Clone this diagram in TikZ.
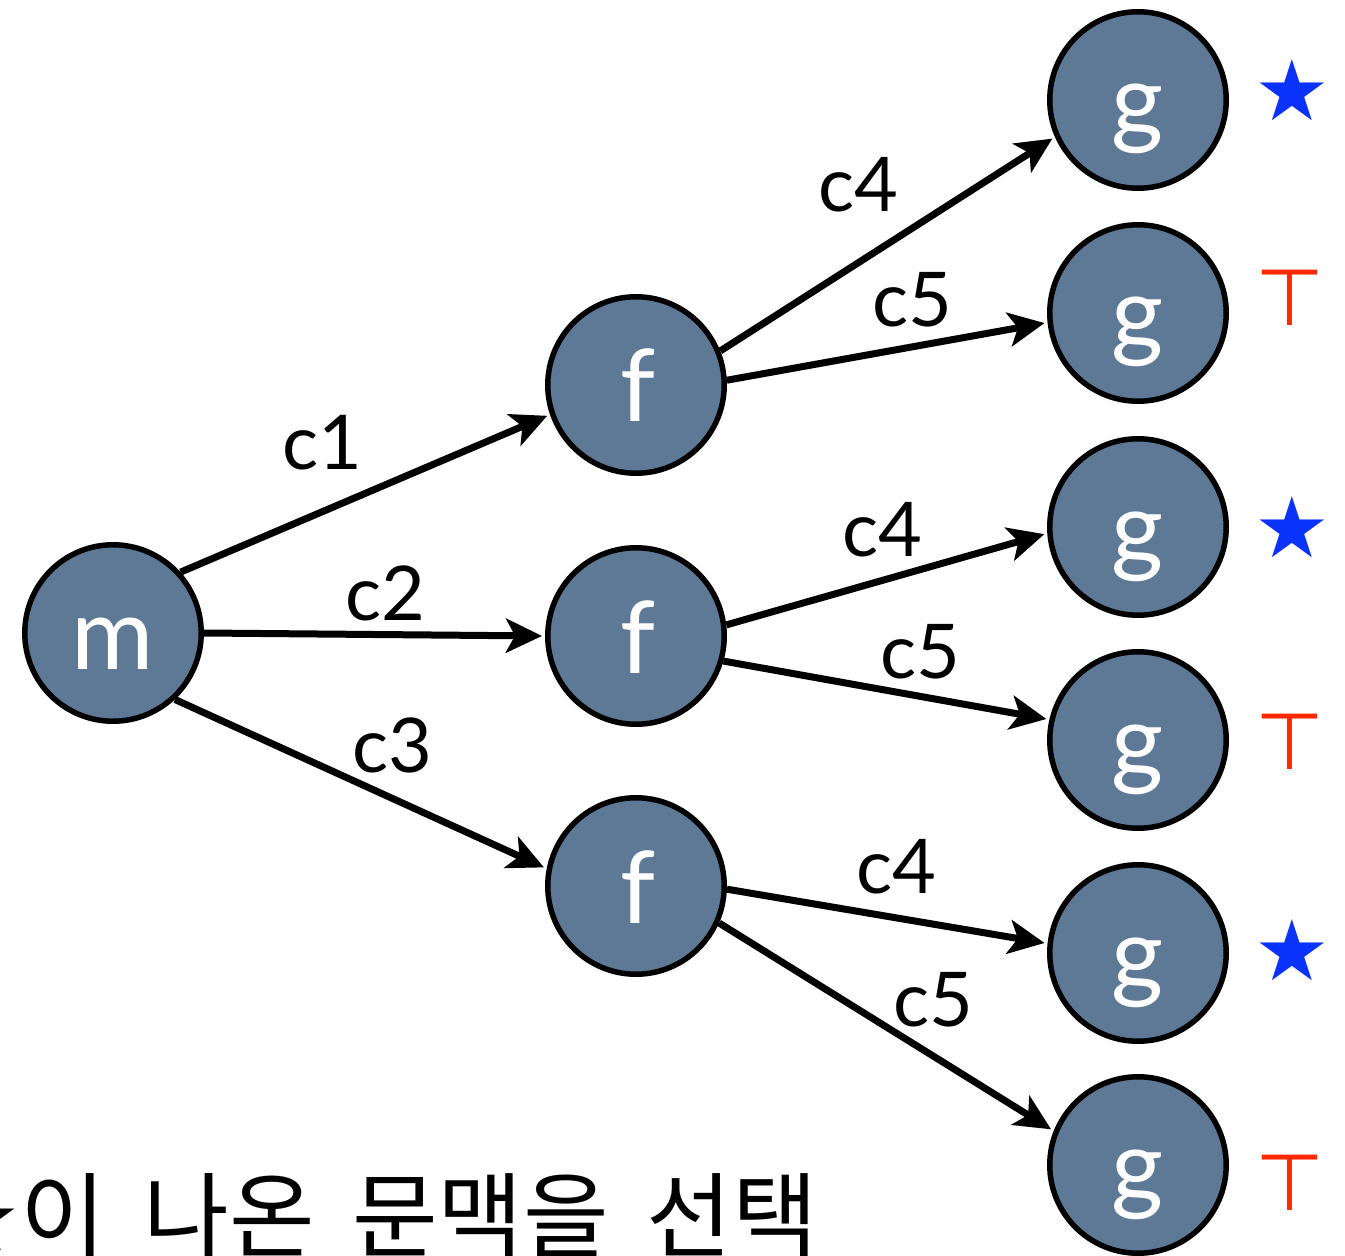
\documentclass[tikz,border=0pt]{standalone}
\usepackage{fontspec}
\setmainfont{Lato}
\newfontfamily\krfont{Noto Sans CJK KR}
\newfontfamily\symfont{DejaVu Sans}
\usetikzlibrary{arrows.meta}
\definecolor{nodeblue}{RGB}{94,121,150}
\definecolor{starblue}{RGB}{10,50,250}
\definecolor{tred}{RGB}{255,40,0}
\tikzset{
 ball/.style={circle, draw=black, line width=0.11cm, fill=nodeblue, minimum size=3.53cm, inner sep=0pt},
 ballletter/.style={text=white, font=\fontsize{57}{57}\selectfont, anchor=base, inner sep=0pt},
 conn/.style={line width=0.14cm, -{Stealth[length=0.72cm,width=0.68cm,inset=0.18cm]}, shorten >=0.06cm},
 elabel/.style={font=\fontsize{43}{43}\selectfont, inner sep=0pt},
 starmark/.style={font=\symfont\fontsize{48}{48}\selectfont, text=starblue, inner sep=0pt},
 topmark/.style={font=\symfont\fontsize{45}{45}\selectfont, text=tred, inner sep=0pt},
 caption/.style={font=\krfont\fontsize{53}{53}\selectfont, inner sep=0pt, anchor=base west},
}
\newcommand{\capgap}{\hspace{0.4em}}
\begin{document}
\begin{tikzpicture}[x=0.02cm,y=-0.02cm]
\useasboundingbox (0,0) rectangle (1345,1256);
\clip (0,0) rectangle (1345,1256);
% nodes
\node (m) [ball] at (113,633) {};
\node (f1) [ball] at (636,385) {};
\node (f2) [ball] at (636,636) {};
\node (f3) [ball] at (636,886) {};
\node (g1) [ball] at (1138,100) {};
\node (g2) [ball] at (1138,313) {};
\node (g3) [ball] at (1138,527) {};
\node (g4) [ball] at (1138,740) {};
\node (g5) [ball] at (1138,953) {};
\node (g6) [ball] at (1138,1165) {};
% letters
\node (mt) [ballletter] at (113,669) {m};
\node (f1t) [ballletter] at (638,422) {f};
\node (f2t) [ballletter] at (638,673) {f};
\node (f3t) [ballletter] at (638,923) {f};
\node (g1t) [ballletter] at (1138,136) {g};
\node (g2t) [ballletter] at (1138,349) {g};
\node (g3t) [ballletter] at (1138,563) {g};
\node (g4t) [ballletter] at (1138,776) {g};
\node (g5t) [ballletter] at (1138,989) {g};
\node (g6t) [ballletter] at (1138,1201) {g};
% connectors
\draw[conn] (m.42) -- (f1.199);
\draw[conn] (m.0) -- (f2.180);
\draw[conn] (m.-47) -- (f3.169);
\draw[conn] (f1.22) -- (g1.204);
\draw[conn] (f1.3) -- (g2.186);
\draw[conn] (f2.7) -- (g3.184);
\draw[conn] (f2.-16) -- (g4.167);
\draw[conn] (f3.-2) -- (g5.174);
\draw[conn] (f3.-24) -- (g6.158);
% edge labels
\node (l1) [elabel] at (322,443) {c1};
\node (l2) [elabel] at (385,593) {c2};
\node (l3) [elabel] at (392,745) {c3};
\node (l4) [elabel] at (858,185) {c4};
\node (l5) [elabel] at (912,300) {c5};
\node (l6) [elabel] at (882,530) {c4};
\node (l7) [elabel] at (920,652) {c5};
\node (l8) [elabel] at (896,867) {c4};
\node (l9) [elabel] at (933,1000) {c5};
% marks
\node (s1) [starmark] at (1292,90) {★};
\node (s2) [starmark] at (1292,527) {★};
\node (s3) [starmark] at (1292,950) {★};
\node (t1) [topmark] at (1290,298) {⊤};
\node (t2) [topmark] at (1290,742) {⊤};
\node (t3) [topmark] at (1290,1183) {⊤};
% caption
\node (cap) [caption] at (-63,1250) {{\symfont ★}이\capgap{}나온\capgap{}문맥을\capgap{}선택};
\end{tikzpicture}
\end{document}
